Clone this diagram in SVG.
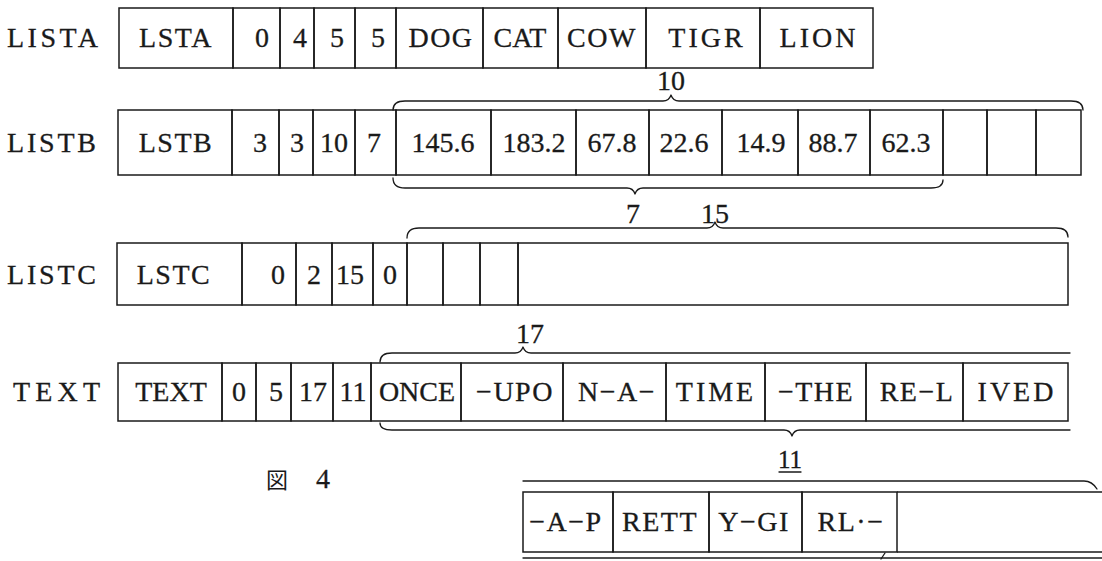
<svg xmlns="http://www.w3.org/2000/svg" width="1102" height="561" viewBox="0 0 1102 561">
  <style>
    .cell { fill: none; stroke: #1a1a1a; stroke-width: 1.5; }
    .edge { fill: none; stroke: #1a1a1a; stroke-width: 1.5; }
    .brace { fill: none; stroke: #1a1a1a; stroke-width: 1.3; stroke-linecap: round; stroke-linejoin: round; }
    text { font-family: "Liberation Serif", "Times New Roman", serif; font-size: 28px; fill: #1a1a1a; stroke: #1a1a1a; stroke-width: 0.3; }
    .v { text-anchor: middle; }
    .w { text-anchor: middle; letter-spacing: 1.5px; }
    .num { text-anchor: middle; }
    .cap { font-family: "Noto Sans CJK JP", "Noto Sans CJK SC", sans-serif; font-size: 22px; stroke-width: 0; }
  </style>
  <rect width="1102" height="561" fill="#ffffff"/>

  <!-- LISTA record -->
  <g id="lista">
    <text x="7" y="47" textLength="91" lengthAdjust="spacing">LISTA</text>
    <rect class="cell" x="119" y="8" width="114" height="60"/>
    <rect class="cell" x="233" y="8" width="47" height="60"/>
    <rect class="cell" x="280" y="8" width="34" height="60"/>
    <rect class="cell" x="314" y="8" width="41" height="60"/>
    <rect class="cell" x="355" y="8" width="41" height="60"/>
    <rect class="cell" x="396" y="8" width="87" height="60"/>
    <rect class="cell" x="483" y="8" width="75" height="60"/>
    <rect class="cell" x="558" y="8" width="88" height="60"/>
    <rect class="cell" x="646" y="8" width="114" height="60"/>
    <rect class="cell" x="760" y="8" width="113" height="60"/>
    <text class="w" x="176" y="47">LSTA</text>
    <text class="v" x="262" y="47">0</text>
    <text class="v" x="300" y="47">4</text>
    <text class="v" x="337" y="47">5</text>
    <text class="v" x="378" y="47">5</text>
    <text class="w" x="441" y="47">DOG</text>
    <text class="w" x="520" y="47" style="letter-spacing:0">CAT</text>
    <text class="w" x="602" y="47">COW</text>
    <text class="w" x="707" y="47" style="letter-spacing:3px">TIGR</text>
    <text class="w" x="819" y="47" style="letter-spacing:3px">LION</text>
  </g>

  <!-- LISTB record -->
  <g id="listb">
    <text x="7" y="152" textLength="89" lengthAdjust="spacing">LISTB</text>
    <rect class="cell" x="118" y="110" width="114" height="65"/>
    <rect class="cell" x="232" y="110" width="47" height="65"/>
    <rect class="cell" x="279" y="110" width="34" height="65"/>
    <rect class="cell" x="313" y="110" width="42" height="65"/>
    <rect class="cell" x="355" y="110" width="41" height="65"/>
    <rect class="cell" x="396" y="110" width="95" height="65"/>
    <rect class="cell" x="491" y="110" width="85" height="65"/>
    <rect class="cell" x="576" y="110" width="73" height="65"/>
    <rect class="cell" x="649" y="110" width="73" height="65"/>
    <rect class="cell" x="722" y="110" width="76" height="65"/>
    <rect class="cell" x="798" y="110" width="72" height="65"/>
    <rect class="cell" x="870" y="110" width="73" height="65"/>
    <rect class="cell" x="943" y="110" width="44" height="65"/>
    <rect class="cell" x="987" y="110" width="49" height="65"/>
    <rect class="cell" x="1036" y="110" width="45" height="65"/>
    <text class="w" x="176" y="152">LSTB</text>
    <text class="v" x="260" y="152">3</text>
    <text class="v" x="297" y="152">3</text>
    <text class="v" x="334" y="152">10</text>
    <text class="v" x="374" y="152">7</text>
    <text class="num" x="443" y="152">145.6</text>
    <text class="num" x="534" y="152">183.2</text>
    <text class="num" x="612" y="152">67.8</text>
    <text class="num" x="684" y="152">22.6</text>
    <text class="num" x="761" y="152">14.9</text>
    <text class="num" x="833" y="152">88.7</text>
    <text class="num" x="906" y="152">62.3</text>
  </g>

  <!-- LISTC record -->
  <g id="listc">
    <text x="7" y="284" textLength="89" lengthAdjust="spacing">LISTC</text>
    <rect class="cell" x="117" y="243" width="125" height="62"/>
    <rect class="cell" x="242" y="243" width="54" height="62"/>
    <rect class="cell" x="296" y="243" width="36" height="62"/>
    <rect class="cell" x="332" y="243" width="41" height="62"/>
    <rect class="cell" x="373" y="243" width="34" height="62"/>
    <rect class="cell" x="407" y="243" width="36" height="62"/>
    <rect class="cell" x="443" y="243" width="37" height="62"/>
    <rect class="cell" x="480" y="243" width="38" height="62"/>
    <rect class="cell" x="518" y="243" width="550" height="62"/>
    <text class="w" x="174" y="284">LSTC</text>
    <text class="v" x="278" y="284">0</text>
    <text class="v" x="314" y="284">2</text>
    <text class="v" x="350" y="284">15</text>
    <text class="v" x="390" y="284">0</text>
  </g>

  <!-- TEXT record, first line -->
  <g id="text-record">
    <text x="13" y="401" textLength="87" lengthAdjust="spacing">TEXT</text>
    <rect class="cell" x="118" y="363" width="104" height="58"/>
    <rect class="cell" x="222" y="363" width="34" height="58"/>
    <rect class="cell" x="256" y="363" width="35" height="58"/>
    <rect class="cell" x="291" y="363" width="42" height="58"/>
    <rect class="cell" x="333" y="363" width="38" height="58"/>
    <rect class="cell" x="371" y="363" width="90" height="58"/>
    <rect class="cell" x="461" y="363" width="102" height="58"/>
    <rect class="cell" x="563" y="363" width="103" height="58"/>
    <rect class="cell" x="666" y="363" width="99" height="58"/>
    <rect class="cell" x="765" y="363" width="101" height="58"/>
    <rect class="cell" x="866" y="363" width="97" height="58"/>
    <rect class="cell" x="963" y="363" width="105" height="58"/>
    <text class="v" x="171" y="401">TEXT</text>
    <text class="v" x="239" y="401">0</text>
    <text class="v" x="276" y="401">5</text>
    <text class="v" x="313" y="401">17</text>
    <text class="v" x="353" y="401">11</text>
    <text class="v" x="417" y="401">ONCE</text>
    <text class="w" x="515" y="401">−UPO</text>
    <text class="w" x="617" y="401">N−A−</text>
    <text class="w" x="716" y="401" style="letter-spacing:3px">TIME</text>
    <text class="w" x="816" y="401">−THE</text>
    <text class="w" x="917" y="401">RE−L</text>
    <text class="w" x="1017" y="401" style="letter-spacing:3px">IVED</text>
  </g>

  <!-- TEXT record, continued line -->
  <g id="text-record-cont">
    <rect class="cell" x="523" y="492" width="90" height="60"/>
    <rect class="cell" x="613" y="492" width="96" height="60"/>
    <rect class="cell" x="709" y="492" width="93" height="60"/>
    <rect class="cell" x="802" y="492" width="95" height="60"/>
    <path class="edge" d="M897,492 H1102 M897,552 H1102"/>
    <text class="w" x="566" y="531">−A−P</text>
    <text class="w" x="660" y="531">RETT</text>
    <text class="w" x="754" y="531">Y−GI</text>
    <text class="w" x="851" y="531">RL·−</text>
  </g>

  <!-- braces and their counts -->
  <g id="connectors">
    <!-- 10 over LISTB data area -->
    <path class="brace" d="M393,110 Q393,101 405,101 L663,101 Q669,101 671,95 Q673,101 679,101 L1071,101 Q1083,101 1083,110"/>
    <text class="num" x="671" y="90">10</text>
    <!-- 7 under the filled LISTB cells -->
    <path class="brace" d="M393,178 Q393,188 405,188 L627,188 Q633,188 635,194 Q637,188 643,188 L931,188 Q943,188 943,180"/>
    <text class="num" x="633" y="223">7</text>
    <!-- 15 over LISTC data area -->
    <path class="brace" d="M407,238 Q407,228 419,228 L707,228 Q713,228 715,222 Q717,228 723,228 L1056,228 Q1068,228 1068,237"/>
    <text class="num" x="715" y="223">15</text>
    <!-- 17 over TEXT data area, wrapping onto next line -->
    <path class="brace" d="M380,362 Q380,353 392,353 L515,353 Q521,353 523,347 Q525,353 531,353 L1070,353"/>
    <text class="num" x="530" y="343">17</text>
    <path class="brace" d="M523,481 L1084,481 Q1092,481 1097,489"/>
    <!-- 11 under TEXT data area, wrapping onto next line -->
    <path class="brace" d="M380,423 Q380,430 392,430 L784,430 Q790,430 792,436 Q794,430 800,430 L1070,430"/>
    <path class="brace" d="M523,558 L1102,558"/>
    <path class="brace" d="M881,559 L885,553"/>
    <text x="790" y="468" style="font-size:25px; text-anchor:middle">11</text>
    <path class="brace" d="M779,472 H801"/>
  </g>

  <!-- figure caption -->
  <g id="caption">
    <text class="cap" x="266" y="488">図</text>
    <text x="316" y="488">4</text>
  </g>
</svg>
